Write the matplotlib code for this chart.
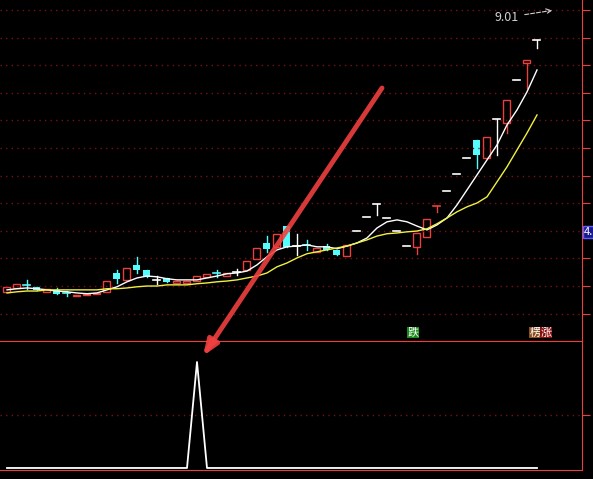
import matplotlib
matplotlib.use('Agg')
import matplotlib.pyplot as plt
from matplotlib.patches import Rectangle
import numpy as np

plt.rcParams['font.family'] = ['Noto Sans CJK SC', 'DejaVu Sans']

# candles: open, close, high, low
opens = [2.46, 2.56, 2.64, 2.59, 2.46, 2.51, 2.43, 2.35, 2.38, 2.41,
         2.46, 2.95, 2.77, 3.16, 3.03, 2.77, 2.82, 2.69, 2.69, 2.74,
         2.85, 2.95, 2.87, 2.98, 3.03, 3.32, 3.73, 3.63, 4.17, 3.65,
         3.68, 3.50, 3.65, 3.55, 3.39, 4.04, 4.41, 4.75, 4.38, 4.04,
         3.65, 3.63, 3.89, 4.69, 5.08, 5.53, 5.94, 6.41, 5.94, 6.96,
         6.85, 7.96, 8.40, 9.01]
closes = [2.59, 2.67, 2.64, 2.51, 2.54, 2.41, 2.43, 2.38, 2.41, 2.43,
          2.74, 2.80, 3.08, 3.03, 2.85, 2.77, 2.72, 2.74, 2.74, 2.87,
          2.93, 2.95, 2.95, 2.98, 3.26, 3.60, 3.58, 3.97, 3.63, 3.65,
          3.68, 3.60, 3.55, 3.42, 3.68, 4.04, 4.41, 4.75, 4.38, 4.04,
          3.65, 3.99, 4.36, 4.69, 5.08, 5.53, 5.94, 6.02, 6.49, 6.96,
          7.45, 7.96, 8.48, 9.01]
highs = [2.59, 2.67, 2.77, 2.59, 2.54, 2.56, 2.48, 2.38, 2.41, 2.43,
         2.74, 3.03, 3.08, 3.37, 3.03, 2.87, 2.82, 2.74, 2.74, 2.87,
         2.93, 3.03, 2.95, 3.06, 3.26, 3.60, 3.91, 3.97, 4.17, 3.97,
         3.81, 3.60, 3.71, 3.55, 3.68, 4.04, 4.41, 4.75, 4.38, 4.04,
         3.65, 3.99, 4.36, 4.69, 5.08, 5.53, 5.94, 6.41, 6.49, 6.96,
         7.45, 7.96, 8.48, 9.01]
lows = [2.46, 2.56, 2.54, 2.51, 2.46, 2.41, 2.35, 2.35, 2.38, 2.41,
        2.46, 2.69, 2.77, 2.95, 2.85, 2.67, 2.72, 2.69, 2.69, 2.74,
        2.85, 2.85, 2.87, 2.90, 3.03, 3.32, 3.50, 3.63, 3.63, 3.42,
        3.55, 3.50, 3.55, 3.42, 3.39, 4.04, 4.41, 4.46, 4.38, 4.04,
        3.65, 3.45, 3.89, 4.54, 5.08, 5.53, 5.94, 5.68, 5.94, 6.02,
        6.59, 7.96, 7.76, 8.80]

ma_short = [2.51, 2.54, 2.56, 2.54, 2.51, 2.48, 2.46, 2.43, 2.41, 2.43,
            2.51, 2.59, 2.72, 2.82, 2.87, 2.85, 2.80, 2.77, 2.77, 2.77,
            2.82, 2.87, 2.93, 2.95, 3.00, 3.16, 3.37, 3.55, 3.63, 3.65,
            3.68, 3.63, 3.63, 3.58, 3.65, 3.73, 3.86, 4.12, 4.28, 4.33,
            4.28, 4.17, 4.07, 4.20, 4.38, 4.72, 5.11, 5.50, 5.89, 6.28,
            6.80, 7.19, 7.66, 8.23]
ma_long = [2.43, 2.46, 2.48, 2.48, 2.51, 2.51, 2.51, 2.51, 2.51, 2.51,
           2.54, 2.54, 2.56, 2.59, 2.61, 2.61, 2.64, 2.64, 2.64, 2.67,
           2.69, 2.72, 2.74, 2.77, 2.82, 2.87, 2.95, 3.11, 3.21, 3.34,
           3.45, 3.50, 3.55, 3.60, 3.65, 3.73, 3.81, 3.91, 3.97, 3.99,
           4.02, 4.04, 4.10, 4.23, 4.38, 4.54, 4.67, 4.77, 4.93, 5.32,
           5.71, 6.15, 6.59, 7.06]

# indicator: spike at bar 19
signal = [0] * 54
signal[19] = 1

# bar colour overrides for one-price / doji bars
doji_cyan = {2, 6, 21, 30}
doji_red = {43}

RED = '#e8403c'
CYAN = '#54fcfc'
GRID = '#7a1010'

fig = plt.figure(figsize=(5.93, 4.79), dpi=100, facecolor='black')
ax = fig.add_axes([0, 138 / 479, 582 / 593, 341 / 479], facecolor='black')
ax2 = fig.add_axes([0, 9 / 479, 582 / 593, 129 / 479], facecolor='black')

n = len(opens)
x = np.arange(n)
w = 0.7
for i in x:
    o, c, h, l = opens[i], closes[i], highs[i], lows[i]
    if abs(c - o) < 0.02:
        col = CYAN if i in doji_cyan else RED if i in doji_red else 'white'
        ax.plot([i - w / 2, i + w / 2], [c, c], color=col, lw=1.2)
        ax.plot([i, i], [l, h], color=col, lw=1)
    elif c > o:
        ax.plot([i, i], [c, h], color=RED, lw=1)
        ax.plot([i, i], [l, o], color=RED, lw=1)
        ax.add_patch(Rectangle((i - w / 2, o), w, c - o, fill=False, ec=RED, lw=1))
    else:
        ax.plot([i, i], [l, h], color=CYAN, lw=1)
        ax.add_patch(Rectangle((i - w / 2, c), w, o - c, color=CYAN, lw=0))

ax.plot(x, ma_short, color='white', lw=1)
ax.plot(x, ma_long, color='#f0f040', lw=1)

ax.set_xlim(-0.7, 57.5)
ax.set_ylim(1.18, 10.05)
ax.set_yticks(np.linspace(1.89, 9.79, 12))
ax.grid(axis='y', color=GRID, ls=(0, (1, 3)), lw=1)
ax.set_xticks([])
ax.tick_params(axis='y', right=True, left=False, labelleft=False,
               direction='out', color=RED, length=6)
for s in ['left', 'top']:
    ax.spines[s].set_visible(False)
ax.spines['right'].set_color(RED)
ax.spines['bottom'].set_color(RED)

ax.annotate('9.01', xy=(n + 0.8, 9.79), xytext=(n - 5.2, 9.6),
            color='#d0d0d0', fontsize=9, va='center',
            arrowprops=dict(arrowstyle='->', color='#d0d0d0', lw=0.8, ls='--'))

ax.text(40.6, 1.40, '跌', color='white', fontsize=8, ha='center', va='center',
        bbox=dict(fc='#1a8a1a', ec='none', pad=0.5))
ax.text(52.8, 1.40, '楞', color='white', fontsize=8, ha='center', va='center',
        bbox=dict(fc='#8a5020', ec='none', pad=0.5))
ax.text(53.9, 1.40, '涨', color='white', fontsize=8, ha='center', va='center',
        bbox=dict(fc='#8a1010', ec='none', pad=0.5))

fig.text(584 / 593, 1 - 232 / 479, '4.', color='white', fontsize=8, va='center',
         bbox=dict(fc='#1a1a90', ec='#6060ff', pad=1))

ax2.plot(x, signal, color='white', lw=1.3)
ax2.set_xlim(-0.7, 57.5)
ax2.set_ylim(-0.019, 1.198)
ax2.set_yticks([0.5])
ax2.grid(axis='y', color=GRID, ls=(0, (1, 3)), lw=1)
ax2.set_xticks([])
ax2.tick_params(axis='y', right=True, left=False, labelleft=False,
                direction='out', color=RED, length=6)
ax2.spines['left'].set_visible(False)
for s in ['right', 'bottom', 'top']:
    ax2.spines[s].set_color(RED)

# big red arrow pointing to the signal
fig.patches.append(matplotlib.patches.FancyArrowPatch(
    (382 / 593, 1 - 88 / 479), (203 / 593, 1 - 356 / 479),
    transform=fig.transFigure, arrowstyle='-|>,head_length=9,head_width=3.5',
    color='#f04040', lw=3.5, alpha=0.9, shrinkA=0, shrinkB=0))

fig.savefig('out.png', dpi=100, facecolor='black')
